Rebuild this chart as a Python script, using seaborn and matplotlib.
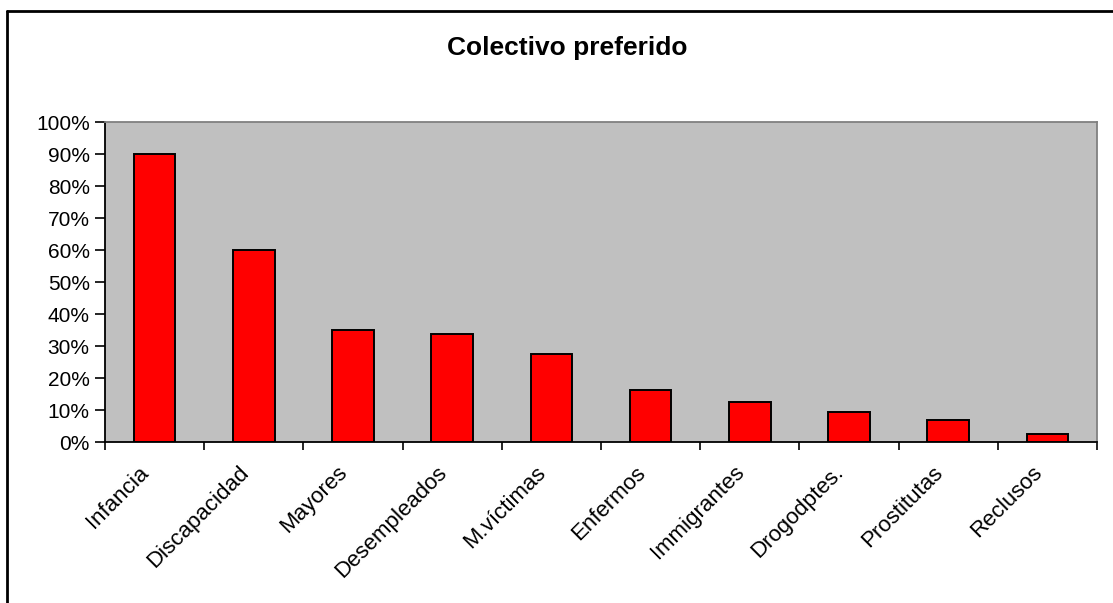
import matplotlib
matplotlib.use("Agg")
import matplotlib.pyplot as plt
import matplotlib.transforms as mtransforms
from matplotlib.lines import Line2D
import seaborn as sns
import pandas as pd

categories = ["Infancia", "Discapacidad", "Mayores", "Desempleados", "M.víctimas",
              "Enfermos", "Immigrantes", "Drogodptes.", "Prostitutas", "Reclusos"]
values = [90.0, 60.0, 35.0, 33.7, 27.5, 16.2, 12.4, 9.3, 6.8, 2.4]
y_ticks = [0, 10, 20, 30, 40, 50, 60, 70, 80, 90, 100]
title = "Colectivo preferido"

sns.set_style("white")
plt.rcParams["font.family"] = ["Liberation Sans", "DejaVu Sans"]
plt.rcParams["text.color"] = "black"
plt.rcParams["xtick.color"] = "black"
plt.rcParams["ytick.color"] = "black"

W, H = 1113, 603
fig = plt.figure(figsize=(W / 100, H / 100), dpi=100)
ax = fig.add_axes([105 / W, 1 - 442 / H, (1097 - 105) / W, (442 - 122) / H])
ax.set_facecolor("#C0C0C0")

df = pd.DataFrame({"cat": categories, "val": values})
sns.barplot(data=df, x="cat", y="val", color="#FF0000", width=0.42,
            edgecolor="black", linewidth=1.4, saturation=1, ax=ax)

ax.set_xlim(-0.5, len(categories) - 0.5)
ax.set_ylim(0, 100)
ax.set_yticks(y_ticks)
ax.set_yticklabels([f"{t}%" for t in y_ticks])
ax.set_xticks([i - 0.5 for i in range(len(categories) + 1)])
ax.set_xticklabels([])
ax.set_xlabel("")
ax.set_ylabel("")
ax.tick_params(axis="y", length=7, width=1.2, color="black", direction="out",
               labelsize=15, labelcolor="black", pad=4, left=True)
ax.tick_params(axis="x", length=6, width=1.2, color="black", direction="out",
               bottom=True)
for s in ["left", "bottom"]:
    ax.spines[s].set_color("black")
    ax.spines[s].set_linewidth(1.3)
for s in ["top", "right"]:
    ax.spines[s].set_color("#808080")
    ax.spines[s].set_linewidth(1.3)
ax.grid(False)

offset = mtransforms.ScaledTranslation(-16 / 100, -20 / 100, fig.dpi_scale_trans)
trans = ax.get_xaxis_transform() + offset
for i, c in enumerate(categories):
    ax.text(i, 0, c, transform=trans, rotation=45, rotation_mode="anchor",
            ha="right", va="top", fontsize=16, color="black")

fig.text(567 / W, 1 - 48 / H, title, ha="center", va="center",
         fontsize=19, fontweight="bold", color="black")

fig.add_artist(Line2D([7 / W, 1.02], [1 - 11 / H, 1 - 11 / H],
                      transform=fig.transFigure, color="black", lw=2))
fig.add_artist(Line2D([7 / W, 7 / W], [-0.02, 1 - 11 / H],
                      transform=fig.transFigure, color="black", lw=2))

fig.savefig("out.png", dpi=100)
